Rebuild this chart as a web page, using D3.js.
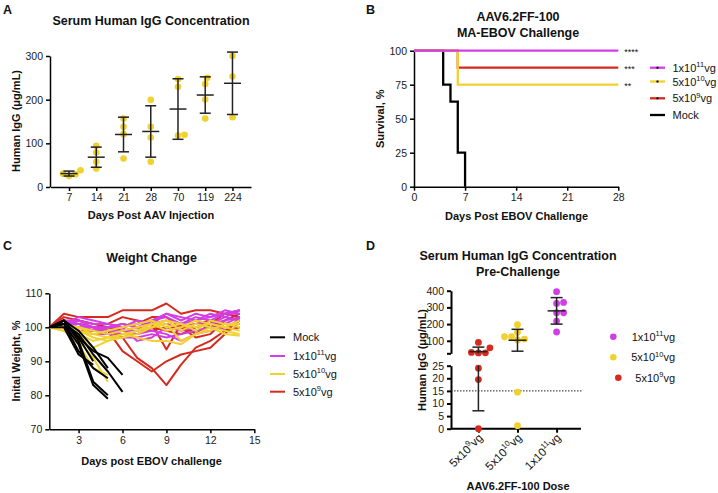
<!DOCTYPE html>
<html><head><meta charset="utf-8">
<script src="https://cdn.jsdelivr.net/npm/d3@7"></script>
<style>body{margin:0;background:#fff}</style>
</head><body><svg id="c" width="718" height="493"></svg>
<script>
// ---------- DATA ----------
// Panel A
const aDays = ["7","14","21","28","70","119","224"];
const aValues = [
  [38.5,25,30.6,29],
  [94.4,79,57.6,42.1],
  [157,138,121,65],
  [199.6,138,113.5,57.6],
  [247,229.5,118,119.7],
  [250,235.6,200.3,156.6],
  [300,253,159.6]
];
const aYTicks = [0,100,200,300];

// Panel B (Kaplan-Meier steps)
const bNames = ["1x10^11vg","5x10^10vg","5x10^9vg","Mock"];
const bTimes = [[0,28],[0,6,28],[0,6,28],[0,4,5,6,7]];
const bSurv  = [[100,100],[100,75,75],[100,87.5,87.5],[100,75,62.5,25,0]];
const bSig = ["****","**","***"];
const bXTicks = [0,7,14,21,28];
const bYTicks = [0,25,50,75,100];

// Panel C (weight %, days 1..)
const cDays = [1,2,3,4,5,6,7,8,9,10,11,12,13,14];
const cMock = [
  [100,102,97,93,91,86],
  [100,101,98,92,87,81],
  [100,102,96,84,80],
  [100,101,95,83,79],
  [100,101,93,88,85],
  [100,100,92,89],
  [100,102,99,94,88],
  [100,101,97,90]
];
const cMag = [
  [100,101,103,102,101,100,101,102,104,103,102,103,104,105],
  [100,101,102,100,99,99,100,101,102,101,103,102,104,104],
  [100,100,99,98,98,97,97,98,97,98,99,100,101,103],
  [100,102,101,100,100,101,100,102,103,101,102,104,103,105],
  [100,101,100,99,99,98,98,99,98,96,98,99,100,102],
  [100,102,102,101,101,100,102,101,104,102,104,103,105,104],
  [100,101,100,100,98,99,99,100,101,100,101,101,102,103],
  [100,101,101,99,100,100,96,97,100,99,100,101,103,102]
];
const cYel = [
  [100,101,99,97,96,97,99,101,102,101,100,101,100,99],
  [100,100,98,94,96,98,99,100,101,96,98,100,99,98],
  [100,101,100,98,97,98,97,96,96,95,98,99,101,100],
  [100,100,99,98,99,100,101,102,100,101,99,102,101,101],
  [100,101,98,96,97,97,98,100,102,99,101,100,98,97.5],
  [100,99,100,99,98,99,100,101,99,100,102,101,100,102],
  [100,100,96,91,84],
  [100,99,95,88,86]
];
const cRed = [
  [100,104,103,103,103,105,105,105,107,104,105,105,104,105],
  [100,101,102,101,101,103,102,101,93.5,101,98,101,104,103],
  [100,101,101,100,99,93,90,87,90,92,93,94,98,103],
  [100,101,101,100,99,97,91,88,83,89,94,96,99,102],
  [100,103,102,101,100,100,101,103,103,100,101,102,100,101],
  [100,101,99,99,100,101,100,99,100,100,97,98,102,104],
  [100,102,101,100,100,99,98,100,99,98,100,101,99,100]
];
const cNames = ["Mock","1x10^11vg","5x10^10vg","5x10^9vg"];
const cXTicks = [3,6,9,12,15];
const cYTicks = [70,80,90,100,110];

// Panel D
const dCats = ["5x10^9vg","5x10^10vg","1x10^11vg"];
const dRed = [90,58,30,28,27,24,19.5,0];
const dYel = [196,151,124,124,110,105,14.5,1.2];
const dMag = [394,324,330,268,268,218,152.5];
const dUpperTicks = [25,100,200,300,400];
const dLowerTicks = [0,5,10,15,20,25];
const dThreshold = 15;
const dLegend = ["1x10^11vg","5x10^10vg","5x10^9vg"];

// ---------- STYLE ----------
const FONT = '"Liberation Sans", Arial, Helvetica, sans-serif';
const MAG = "#d23ee6", YEL = "#f0d12e", RED = "#d62a1e", BLK = "#000";
const svg = d3.select("#c");
svg.append("rect").attr("width",718).attr("height",493).attr("fill","#fff");

function styleAxis(sel, w, fs){
  sel.attr("font-family", FONT).attr("font-size", fs||10.5);
  sel.select(".domain").attr("stroke","#000").attr("stroke-width", w||1.5);
  sel.selectAll(".tick line").attr("stroke","#000").attr("stroke-width", w||1.5);
  sel.selectAll(".tick text").attr("fill","#1a1a1a");
}
function rich(t, str, size){
  const m = str.match(/^(.*?)\^(\d+)(.*)$/);
  if(!m){ t.text(str); return t; }
  t.append("tspan").text(m[1]);
  t.append("tspan").attr("dy", -size*0.42).attr("font-size", size*0.68).text(m[2]);
  t.append("tspan").attr("dy", size*0.42).text(m[3]);
  return t;
}
function txt(x,y,str,opt){
  opt = opt||{};
  const t = svg.append("text").attr("x",x).attr("y",y)
    .attr("font-family",FONT).attr("font-size",opt.size||11)
    .attr("font-weight",opt.bold?"bold":"normal")
    .attr("text-anchor",opt.anchor||"start").attr("fill","#111");
  if(opt.rotate!=null) t.attr("transform",`rotate(${opt.rotate},${x},${y})`);
  rich(t,str,opt.size||11);
  return t;
}
// greedy beeswarm dodge
function dodge(ys, r){
  const order = ys.map((y,i)=>i).sort((a,b)=>ys[b]-ys[a]);
  const placed = []; const off = new Array(ys.length).fill(0);
  const d = 2*r*0.98;
  order.forEach(i=>{
    let best = 0;
    for(let k=0;k<200;k++){
      const cand = (k%2===1?1:-1)*Math.ceil(k/2)*0.5;
      const ok = placed.every(p=>{const dx=cand-p.x, dy=ys[i]-p.y; return dx*dx+dy*dy >= d*d;});
      if(ok){best=cand;break;}
    }
    off[i]=best; placed.push({x:best,y:ys[i]});
  });
  return off;
}

// ---------- PANEL LETTERS ----------
txt(3,13.5,"A",{bold:true,size:12.5});
txt(366,13.5,"B",{bold:true,size:12.5});
txt(3,250,"C",{bold:true,size:12.5});
txt(366,249.5,"D",{bold:true,size:12.5});

// ---------- PANEL A ----------
{
  const x = d3.scalePoint().domain(aDays).range([50.5,251]).padding(0.68);
  const y = d3.scaleLinear().domain([0,300]).range([187,56]);
  svg.append("g").attr("transform","translate(50,0)")
    .call(d3.axisLeft(y).tickValues(aYTicks).tickSize(4).tickSizeOuter(0)).call(styleAxis);
  svg.append("g").attr("transform","translate(0,187)")
    .call(d3.axisBottom(x).tickSize(4).tickSizeOuter(0)).call(styleAxis);
  const r = 3.3;
  aDays.forEach((d,i)=>{
    const vals = aValues[i];
    const cx = x(d);
    const ys = vals.map(v=>y(v));
    const off = dodge(ys, r);
    svg.append("g").selectAll("circle").data(vals).join("circle")
      .attr("cx",(v,j)=>cx+off[j]).attr("cy",v=>y(v)).attr("r",r).attr("fill",YEL);
    const m = d3.mean(vals), s = d3.deviation(vals);
    const g = svg.append("g").attr("stroke","#222").attr("stroke-width",1.5);
    g.append("line").attr("x1",cx).attr("x2",cx).attr("y1",y(m+s)).attr("y2",y(m-s));
    g.append("line").attr("x1",cx-5.5).attr("x2",cx+5.5).attr("y1",y(m+s)).attr("y2",y(m+s));
    g.append("line").attr("x1",cx-5.5).attr("x2",cx+5.5).attr("y1",y(m-s)).attr("y2",y(m-s));
    g.append("line").attr("x1",cx-8.5).attr("x2",cx+8.5).attr("y1",y(m)).attr("y2",y(m));
  });
  txt(151,25,"Serum Human IgG Concentration",{bold:true,size:12.5,anchor:"middle"});
  txt(151,218.5,"Days Post AAV Injection",{bold:true,size:11,anchor:"middle"});
  txt(19.5,121,"Human IgG (\u03bcg/mL)",{bold:true,size:11,anchor:"middle",rotate:-90});
}

// ---------- PANEL B ----------
{
  const x = d3.scaleLinear().domain([0,28]).range([414,618.3]);
  const y = d3.scaleLinear().domain([0,100]).range([186.7,50.7]);
  svg.append("g").attr("transform","translate(414,0)")
    .call(d3.axisLeft(y).tickValues(bYTicks).tickSize(4).tickSizeOuter(0)).call(styleAxis);
  svg.append("g").attr("transform","translate(0,186.7)")
    .call(d3.axisBottom(x).tickValues(bXTicks).tickSize(4).tickSizeOuter(0)).call(styleAxis);
  const cols = [MAG,YEL,RED,BLK];
  const line = d3.line().x(d=>x(d[0])).y(d=>y(d[1])).curve(d3.curveStepAfter);
  [3,2,1,0].forEach(i=>{
    const pts = bTimes[i].map((t,j)=>[t,bSurv[i][j]]);
    svg.append("path").attr("d",line(pts)).attr("fill","none")
      .attr("stroke",cols[i]).attr("stroke-width",2.3);
  });
  // significance marks
  [0,1,2].forEach(i=>{
    const last = bSurv[i][bSurv[i].length-1];
    svg.append("text").attr("x",x(28)+6).attr("y",y(last)+4)
      .attr("font-family",FONT).attr("font-size",9).attr("fill","#111").text(bSig[i]);
  });
  // legend
  const rows = [67.7,81.5,98.3,115];
  bNames.forEach((n,i)=>{
    svg.append("line").attr("x1",650).attr("x2",665).attr("y1",rows[i]).attr("y2",rows[i])
      .attr("stroke",cols[i]).attr("stroke-width",2.3);
    svg.append("rect").attr("x",656.5).attr("y",rows[i]-1).attr("width",2).attr("height",2).attr("fill","#000");
    txt(672.5,rows[i]+4,n,{size:11});
  });
  txt(518,21,"AAV6.2FF-100",{bold:true,size:12.5,anchor:"middle"});
  txt(518,37,"MA-EBOV Challenge",{bold:true,size:12.5,anchor:"middle"});
  txt(516.5,220,"Days Post EBOV Challenge",{bold:true,size:11,anchor:"middle"});
  txt(384,118.7,"Survival, %",{bold:true,size:11,anchor:"middle",rotate:-90});
}

// ---------- PANEL C ----------
{
  const x = d3.scaleLinear().domain([1,15]).range([49.3,254.3]);
  const y = d3.scaleLinear().domain([70,110]).range([429.3,293.3]);
  svg.append("g").attr("transform","translate(49.3,0)")
    .call(d3.axisLeft(y).tickValues(cYTicks).tickSize(4).tickSizeOuter(0)).call(styleAxis);
  svg.append("g").attr("transform","translate(0,429.3)")
    .call(d3.axisBottom(x).tickValues(cXTicks).tickSize(4).tickSizeOuter(0)).call(styleAxis);
  const line = d3.line().x((v,i)=>x(cDays[i])).y(v=>y(v));
  const draw = (arr,col)=>arr.forEach(a=>svg.append("path").attr("d",line(a))
      .attr("fill","none").attr("stroke",col).attr("stroke-width",2).attr("stroke-linejoin","round"));
  draw(cRed,RED); draw(cMag,MAG); draw(cYel,YEL); draw(cMock,BLK);
  const cols = [BLK,MAG,YEL,RED];
  const rows = [337.3,356,374,391.7];
  cNames.forEach((n,i)=>{
    svg.append("line").attr("x1",270).attr("x2",285).attr("y1",rows[i]).attr("y2",rows[i])
      .attr("stroke",cols[i]).attr("stroke-width",2);
    txt(293,rows[i]+4,n,{size:11});
  });
  txt(151.5,262,"Weight Change",{bold:true,size:12.5,anchor:"middle"});
  txt(151.5,465,"Days post EBOV challenge",{bold:true,size:11,anchor:"middle"});
  txt(19.5,361,"Inital Weight, %",{bold:true,size:11,anchor:"middle",rotate:-90});
}

// ---------- PANEL D ----------
{
  const x = d3.scalePoint().domain(dCats).range([453,582]).padding(0.65);
  const yU = d3.scaleLinear().domain([25,400]).range([353.3,290.7]);
  const yL = d3.scaleLinear().domain([0,25]).range([428.7,365.7]);
  const yy = v => v>=25 ? yU(v) : yL(v);
  svg.append("g").attr("transform","translate(451,0)")
    .call(d3.axisLeft(yU).tickValues(dUpperTicks).tickSize(4).tickSizeOuter(0)
      .tickFormat(v=>v===25?"":v)).call(s=>styleAxis(s,2,10.5));
  svg.append("g").attr("transform","translate(451,0)")
    .call(d3.axisLeft(yL).tickValues(dLowerTicks).tickSize(4).tickSizeOuter(0)).call(s=>styleAxis(s,2,10.5));
  const xa = svg.append("g").attr("transform","translate(0,428.7)")
    .call(d3.axisBottom(x).tickSize(4).tickSizeOuter(0)).call(s=>styleAxis(s,2,10.5));
  xa.select(".domain").attr("d","M451,0H581");
  xa.selectAll(".tick text").remove();
  dCats.forEach(c=>{
    txt(x(c)+5,438.5,c,{size:11.5,anchor:"end",rotate:-45});
  });
  // threshold dotted line
  svg.append("line").attr("x1",451).attr("x2",583).attr("y1",yL(dThreshold)).attr("y2",yL(dThreshold))
    .attr("stroke","#222").attr("stroke-width",1).attr("stroke-dasharray","1.5,1.5");
  const groups = [[dRed,RED],[dYel,YEL],[dMag,MAG]];
  const r = 3.4;
  groups.forEach(([vals,col],i)=>{
    const cx = x(dCats[i]);
    const ys = vals.map(yy);
    const off = dodge(ys, r);
    svg.append("g").selectAll("circle").data(vals).join("circle")
      .attr("cx",(v,j)=>cx+off[j]).attr("cy",v=>yy(v)).attr("r",r).attr("fill",col);
    const m = d3.mean(vals), s = d3.deviation(vals);
    const hi = m+s, lo = m-s;
    const g = svg.append("g").attr("stroke","#222").attr("stroke-width",1.5);
    if(lo>=25 || hi<25){
      g.append("line").attr("x1",cx).attr("x2",cx).attr("y1",yy(hi)).attr("y2",yy(lo));
    } else {
      g.append("line").attr("x1",cx).attr("x2",cx).attr("y1",yU(hi)).attr("y2",yU(25));
      g.append("line").attr("x1",cx).attr("x2",cx).attr("y1",yL(25)).attr("y2",yL(lo));
    }
    g.append("line").attr("x1",cx-6).attr("x2",cx+6).attr("y1",yy(hi)).attr("y2",yy(hi));
    g.append("line").attr("x1",cx-6).attr("x2",cx+6).attr("y1",yy(lo)).attr("y2",yy(lo));
    g.append("line").attr("x1",cx-9).attr("x2",cx+9).attr("y1",yy(m)).attr("y2",yy(m));
  });
  // legend
  const lcols = [MAG,YEL,RED];
  const lx = [613.3,613.3,618.3], ly = [336.7,357.3,377.7];
  dLegend.forEach((n,i)=>{
    svg.append("circle").attr("cx",lx[i]).attr("cy",ly[i]).attr("r",3.3).attr("fill",lcols[i]);
    txt(675,ly[i]+4,n,{size:11,anchor:"end"});
  });
  txt(518,260,"Serum Human IgG Concentration",{bold:true,size:12.5,anchor:"middle"});
  txt(518,276,"Pre-Challenge",{bold:true,size:12.5,anchor:"middle"});
  txt(518,490,"AAV6.2FF-100 Dose",{bold:true,size:11,anchor:"middle"});
  txt(425.5,360,"Human IgG (\u03bcg/mL)",{bold:true,size:11,anchor:"middle",rotate:-90});
}
</script></body></html>
